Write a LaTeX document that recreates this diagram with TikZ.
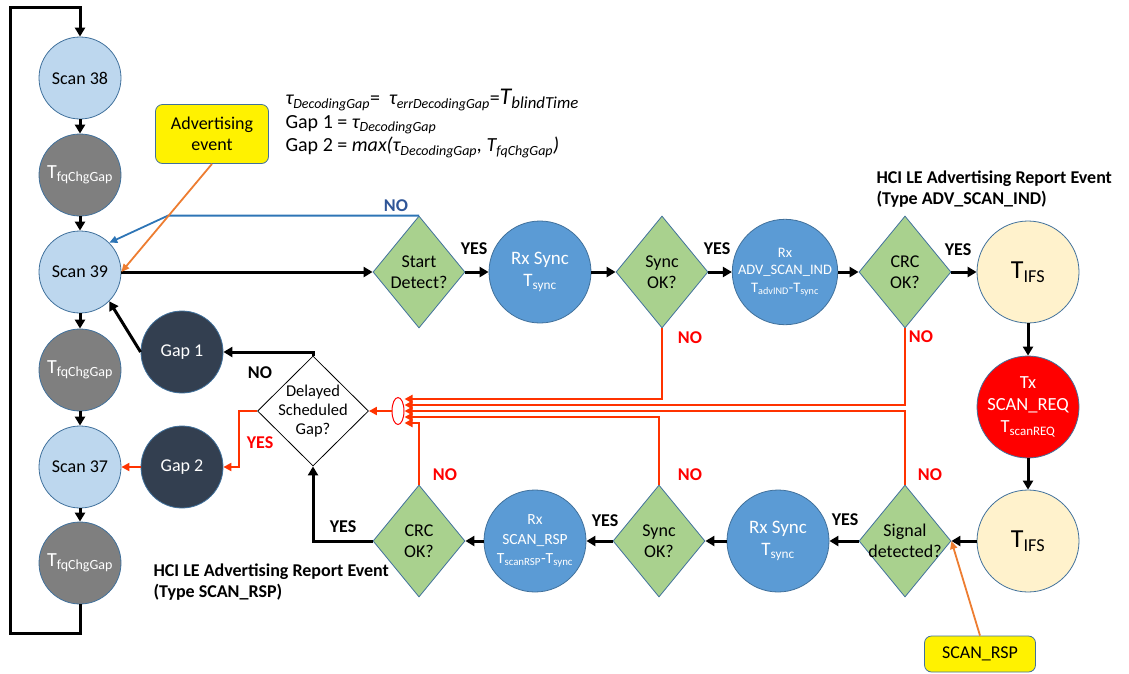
\documentclass[tikz,border=0pt]{standalone}
\usepackage{fontspec}
\setmainfont{Carlito}
\usetikzlibrary{shapes.geometric,arrows.meta}
\definecolor{edgeblue}{HTML}{41719C}
\definecolor{scanfill}{HTML}{BDD7EE}
\definecolor{fqgray}{HTML}{7F7F7F}
\definecolor{gapdark}{HTML}{333F50}
\definecolor{rxblue}{HTML}{5B9BD5}
\definecolor{decgreen}{HTML}{A9D18E}
\definecolor{ifscream}{HTML}{FFF2CC}
\definecolor{nored}{HTML}{FF3300}
\definecolor{advorange}{HTML}{ED7D31}
\definecolor{noblue}{HTML}{2E75B6}
\definecolor{nobluetxt}{HTML}{2F5597}
\newcommand{\fsz}[2]{\fontsize{#1}{#2}\selectfont}
\newcommand{\zw}[1]{\makebox[0pt]{#1}}
\begin{document}
\begin{tikzpicture}[x=1pt,y=-1pt,
    state/.style={circle,draw=edgeblue,line width=0.8pt,inner sep=0pt,align=center},
    scan/.style={state,fill=scanfill,minimum size=82pt,font=\fsz{18}{21}},
    fqgap/.style={state,fill=fqgray,text=white,minimum size=82pt,font=\fsz{20}{22}},
    gap/.style={state,fill=gapdark,text=white,minimum size=82pt,font=\fsz{18}{21}},
    rx/.style={state,fill=rxblue,text=white,minimum size=102pt},
    ifs/.style={state,fill=ifscream,minimum size=102pt,font=\fsz{26}{28}},
    tx/.style={state,fill=red,text=white,minimum size=102pt,font=\fsz{18.5}{22}},
    decision/.style={diamond,draw=edgeblue,fill=decgreen,line width=0.8pt,inner sep=0pt,
      minimum width=92pt,minimum height=112pt,align=center,font=\fsz{18}{21.5}},
    note/.style={rounded corners=7pt,draw=edgeblue,fill=yellow,line width=0.8pt,inner sep=0pt,
      align=center,font=\fsz{18}{21}},
    flow/.style={line width=3pt,-{Triangle[length=9pt,width=10pt]}},
    redflow/.style={draw=nored,line width=2.2pt,-{Triangle[length=8pt,width=8pt]}},
    orangeflow/.style={draw=advorange,line width=1.8pt,-{Triangle[length=8pt,width=7pt]}},
    blueflow/.style={draw=noblue,line width=1.8pt,-{Triangle[length=8pt,width=7pt]}},
    yes/.style={font=\bfseries\fsz{18}{20}},
    no/.style={font=\bfseries\fsz{18}{20},text=red},
    event/.style={anchor=north west,align=left,font=\bfseries\fsz{18}{21}}]
    \useasboundingbox (0,0) rectangle (1129,673);
    \node[scan] (s38) at (80,78) {Scan 38};
    \node[fqgap] (fq1) at (80,175) {T\textsubscript{fqChgGap}};
    \node[scan] (s39) at (80,272) {Scan 39};
    \node[fqgap] (fq2) at (80,370) {T\textsubscript{fqChgGap}};
    \node[scan] (s37) at (80,467) {Scan 37};
    \node[fqgap] (fq3) at (80,563) {T\textsubscript{fqChgGap}};
    \node[gap] (gap1) at (182,352) {Gap 1};
    \node[gap] (gap2) at (182,467) {Gap 2};
    \node[note,minimum width=113pt,minimum height=59pt] (adv) at (212,134) {Advertising\\event};
    \node[note,minimum width=111pt,minimum height=36pt] (rsp) at (980,654) {SCAN\_RSP};
    \node[anchor=north west,align=left,font=\fsz{20}{23.5}] (gaps) at (282,86)
      {\textit{τ\textsubscript{DecodingGap}}=~~\textit{τ\textsubscript{errDecodingGap}}=\textit{\fsz{24}{23.5}T\textsubscript{blindTime}}\\
       Gap 1 = \textit{τ\textsubscript{DecodingGap}}\\
       Gap 2 = \textit{max(τ\textsubscript{DecodingGap}, T\textsubscript{fqChgGap})}};
    \node[decision] (sd) at (419,272) {\zw{Start}\\\zw{Detect?}};
    \node[rx,font=\fsz{19}{22}] (rxs1) at (540,272) {Rx Sync\\T\textsubscript{sync}};
    \node[decision] (sok1) at (662,272) {\zw{Sync}\\\zw{OK?}};
    \node[rx,font=\fsz{14.5}{17.5}] (rxadv) at (785,272) {Rx\\ADV\_SCAN\_IND\\T\textsubscript{advIND}-T\textsubscript{sync}};
    \node[decision] (crc1) at (905,272) {\zw{CRC}\\\zw{OK?}};
    \node[ifs] (ifs1) at (1028,272) {T\textsubscript{IFS}};
    \node[tx] (tx) at (1028,407) {Tx\\SCAN\_REQ\\T\textsubscript{scanREQ}};
    \node[ifs] (ifs2) at (1028,541) {T\textsubscript{IFS}};
    \node[decision] (sig) at (905,541) {\zw{Signal}\\\zw{detected?}};
    \node[rx,font=\fsz{19}{22}] (rxs2) at (778,541) {Rx Sync\\T\textsubscript{sync}};
    \node[decision] (sok2) at (659,541) {\zw{Sync}\\\zw{OK?}};
    \node[rx,font=\fsz{15.5}{19.5}] (rxrsp) at (535,541) {Rx\\SCAN\_RSP\\T\textsubscript{scanRSP}-T\textsubscript{sync}};
    \node[decision] (crc2) at (419,541) {\zw{CRC}\\\zw{OK?}};
    \node[decision,draw=black,fill=white,minimum width=111pt,minimum height=110pt,font=\fsz{16.5}{19}] (dsg) at (313,411)
      {\zw{Delayed}\\\zw{Scheduled}\\\zw{Gap?}};
    \node[ellipse,draw=red,fill=white,line width=1pt,minimum width=12pt,minimum height=27pt,inner sep=0pt] (merge) at (398,411) {};
    \node[event] (hci1) at (873,167) {HCI LE Advertising Report Event\\(Type ADV\_SCAN\_IND)};
    \node[event] (hci2) at (150,560) {HCI LE Advertising Report Event\\(Type SCAN\_RSP)};
    \foreach \a/\b in {s38/fq1,fq1/s39,s39/fq2,fq2/s37,s37/fq3}
      \draw[flow] (\a) -- (\b);
    \draw[flow] (fq3) -- (80,633) -- (10,633) -- (10,7) -- (80,7) -- (s38);
    \draw[flow] (s39) -- (sd);
    \draw[flow] (sd) -- (rxs1);
    \draw[flow] (rxs1) -- (sok1);
    \draw[flow] (sok1) -- (rxadv);
    \draw[flow] (rxadv) -- (crc1);
    \draw[flow] (crc1) -- (ifs1);
    \draw[flow] (ifs1) -- (tx);
    \draw[flow] (tx) -- (ifs2);
    \draw[flow] (ifs2) -- (sig);
    \draw[flow] (sig) -- (rxs2);
    \draw[flow] (rxs2) -- (sok2);
    \draw[flow] (sok2) -- (rxrsp);
    \draw[flow] (rxrsp) -- (crc2);
    \draw[flow] (crc2.west) -| (dsg.south);
    \draw[flow] (dsg.north) |- (gap1);
    \draw[flow] (gap1.west) -- (s39.-45);
    \draw[redflow] (dsg.west) -- ++(-18,0) |- (gap2);
    \draw[redflow] (gap2) -- (s37);
    \draw[redflow] (merge) -- (dsg);
    \draw[redflow] (sok1.south) |- ([yshift=12pt]merge.east);
    \draw[redflow] (crc1.south) |- ([yshift=6pt]merge.east);
    \draw[redflow] (sig.north) |- (merge.east);
    \draw[redflow] (sok2.north) |- ([yshift=-6pt]merge.east);
    \draw[redflow] (crc2.north) |- ([yshift=-12pt]merge.east);
    \draw[blueflow] (sd.north) -- ++(-251,0) -- (s39.45);
    \draw[orangeflow] (adv.south) -- (s39.east);
    \draw[orangeflow] (rsp.north) -- (sig.east);
    \node[yes] (yes1) at (474,249) {YES};
    \node[yes] (yes2) at (717,249) {YES};
    \node[yes] (yes3) at (958,250) {YES};
    \node[yes] (yes4) at (845,520) {YES};
    \node[yes] (yes5) at (605,521) {YES};
    \node[yes] (yes6) at (343,527) {YES};
    \node[yes,text=red] (yes7) at (260,443) {YES};
    \node[yes] (no0) at (260,373) {NO};
    \node[yes,text=nobluetxt] (no1) at (396,206) {NO};
    \node[no] (no2) at (690,338) {NO};
    \node[no] (no3) at (921,337) {NO};
    \node[no] (no4) at (445,475) {NO};
    \node[no] (no5) at (690,475) {NO};
    \node[no] (no6) at (930,475) {NO};
\end{tikzpicture}
\end{document}
